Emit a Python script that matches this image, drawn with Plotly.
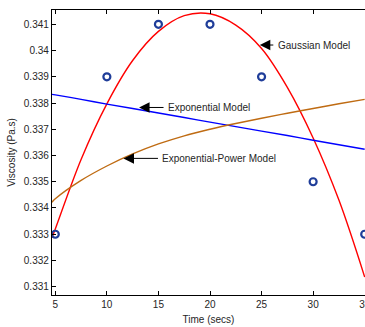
import plotly.graph_objects as go

# Measured viscosity over time
time_s = [5, 10, 15, 20, 25, 30, 35]
viscosity = [0.333, 0.339, 0.341, 0.341, 0.339, 0.335, 0.333]

# Fitted model curves, sampled along the time axis
model_t = [4.68, 5, 7.5, 10, 12.5, 15, 17.5, 20, 22.5, 25, 27.5, 30, 32.5, 35]
gaussian = [0.33287, 0.33320, 0.33585, 0.33797, 0.33962, 0.34073, 0.34133, 0.34140,
            0.34097, 0.34008, 0.33860, 0.33667, 0.33430, 0.33137]
exponential = [0.33833, 0.33831, 0.33814, 0.33796, 0.33779, 0.33762, 0.33745, 0.33727,
               0.33710, 0.33693, 0.33676, 0.33658, 0.33641, 0.33624]
exp_power = [0.33422, 0.33435, 0.33505, 0.33560, 0.33606, 0.33644, 0.33675, 0.33700,
             0.33722, 0.33742, 0.33761, 0.33779, 0.33797, 0.33814]

x_ticks = [5, 10, 15, 20, 25, 30, 35]
y_ticks = [0.331, 0.332, 0.333, 0.334, 0.335, 0.336, 0.337, 0.338, 0.339, 0.34, 0.341]
y_tick_text = ["0.331", "0.332", "0.333", "0.334", "0.335", "0.336", "0.337", "0.338",
               "0.339", "0.34", "0.341"]

FONT = "Liberation Sans, Arial, sans-serif"
TEXT = "#262626"

fig = go.Figure()
fig.add_trace(go.Scatter(x=model_t, y=gaussian, mode="lines", line_shape="spline",
                         line=dict(color="#ff0000", width=1.4), name="Gaussian Model"))
fig.add_trace(go.Scatter(x=model_t, y=exponential, mode="lines", line_shape="spline",
                         line=dict(color="#0000ff", width=1.4), name="Exponential Model"))
fig.add_trace(go.Scatter(x=model_t, y=exp_power, mode="lines", line_shape="spline",
                         line=dict(color="#bf6b12", width=1.4), name="Exponential-Power Model"))
fig.add_trace(go.Scatter(x=time_s, y=viscosity, mode="markers",
                         marker=dict(symbol="circle-open", size=7, color="#1f3d99",
                                     line=dict(width=2.2, color="#1f3d99")),
                         name="Data"))

# Arrow labels for each model: (arrow tip x, tip y, tail offset px, label)
labels = [
    (24.83, 0.34021, 15, "Gaussian Model"),
    (13.12, 0.33783, 26, "Exponential Model"),
    (11.61, 0.33589, 36, "Exponential-Power Model"),
]
for tx, ty, off, txt in labels:
    fig.add_annotation(x=tx, y=ty, xref="x", yref="y", text="", showarrow=True,
                       ax=off, ay=0, arrowhead=2, arrowsize=2.1, arrowwidth=1,
                       arrowcolor="black", standoff=0)
    fig.add_annotation(x=tx, y=ty, xref="x", yref="y", text=txt, showarrow=False,
                       xanchor="left", yanchor="middle", xshift=off + 1,
                       font=dict(family=FONT, size=10, color=TEXT))

fig.update_layout(
    width=365, height=327,
    margin=dict(l=52, r=0, t=10, b=32, autoexpand=False),
    paper_bgcolor="white", plot_bgcolor="white",
    showlegend=False,
    font=dict(family=FONT, size=10, color=TEXT),
)
fig.update_xaxes(
    range=[4.68, 35.03], tickvals=x_ticks, ticks="inside", ticklen=4, tickwidth=1,
    tickcolor="black", showline=True, linecolor="black", linewidth=1.3,
    mirror="ticks", showgrid=False, zeroline=False, ticklabeloverflow="allow",
    automargin=False,
    title=dict(text="Time (secs)", standoff=6, font=dict(family=FONT, size=10, color=TEXT)),
    tickfont=dict(family=FONT, size=10, color=TEXT),
)
fig.update_yaxes(
    range=[0.330684, 0.341545], tickvals=y_ticks, ticktext=y_tick_text,
    ticks="inside", ticklen=4, tickwidth=1, tickcolor="black",
    showline=True, linecolor="black", linewidth=1.3, mirror=False,
    showgrid=False, zeroline=False, automargin=False,
    title=dict(text="Viscosity (Pa.s)", standoff=6, font=dict(family=FONT, size=10, color=TEXT)),
    tickfont=dict(family=FONT, size=10, color=TEXT),
)

fig.write_html("out.html")
